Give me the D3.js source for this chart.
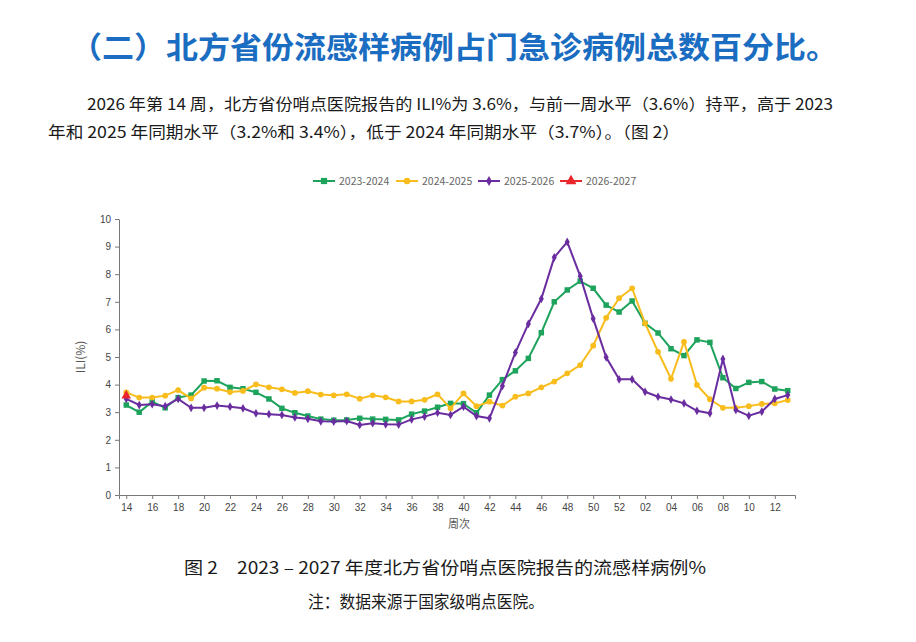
<!DOCTYPE html>
<html>
<head>
<meta charset="utf-8">
<script src="https://cdn.jsdelivr.net/npm/d3@7"></script>
<style>
  body { margin: 0; background: #fff; }
  svg { display: block; font-family: "Noto Sans CJK SC", "Noto Sans", sans-serif; }
</style>
</head>
<body>
<div id="chart"></div>
<script>
// weeks 14..52 then 01..13
const weeks = ["14","15","16","17","18","19","20","21","22","23","24","25","26","27","28","29","30","31","32","33",
  "34","35","36","37","38","39","40","41","42","43","44","45","46","47","48","49","50","51","52",
  "01","02","03","04","05","06","07","08","09","10","11","12","13"];
const tickWeeks = weeks.filter((d, i) => i % 2 === 0);

const s2023 = [3.26,3.0,3.38,3.16,3.53,3.62,4.13,4.14,3.90,3.85,3.72,3.48,3.14,2.98,2.86,2.75,2.71,2.72,2.78,2.75,
  2.74,2.72,2.93,3.04,3.18,3.32,3.31,2.98,3.62,4.18,4.5,4.95,5.88,7.0,7.43,7.75,7.49,6.88,6.63,
  7.03,6.22,5.87,5.3,5.05,5.62,5.53,4.25,3.86,4.08,4.11,3.84,3.78];
const s2024 = [3.72,3.53,3.53,3.6,3.80,3.50,3.89,3.85,3.73,3.77,4.01,3.90,3.83,3.70,3.76,3.64,3.61,3.65,3.49,3.61,
  3.54,3.39,3.39,3.45,3.65,3.14,3.68,3.22,3.38,3.24,3.56,3.68,3.90,4.11,4.41,4.71,5.41,6.42,7.13,
  7.49,6.22,5.19,4.21,5.55,3.99,3.47,3.16,3.16,3.22,3.30,3.32,3.44];
const s2025 = [3.48,3.26,3.29,3.22,3.48,3.16,3.16,3.24,3.2,3.14,2.96,2.93,2.90,2.81,2.76,2.67,2.66,2.68,2.54,2.60,
  2.56,2.55,2.74,2.84,2.98,2.90,3.20,2.86,2.78,3.95,5.16,6.2,7.11,8.61,9.17,7.93,6.39,4.99,4.19,
  4.19,3.74,3.56,3.46,3.32,3.05,2.96,4.93,3.08,2.87,3.02,3.48,3.62];
const s2026 = [3.6];

const seriesNames = ["2023-2024","2024-2025","2025-2026","2026-2027"];
const seriesColors = ["#1da35c","#f8bd1c","#6a2d9f","#e8262b"];
const seriesSymbols = [d3.symbolSquare, d3.symbolCircle, d3.symbolDiamond, d3.symbolTriangle];
const symbolSizes = [30, 26, 22, 40];
const allSeries = [s2023, s2024, s2025, s2026];

const W = 916, H = 642;
const svg = d3.select("#chart").append("svg")
    .attr("width", W)
    .attr("height", H);

svg.append("rect").attr("width", W).attr("height", H).attr("fill", "#fff");

// title and paragraph
svg.append("text")
    .attr("x", 70).attr("y", 58)
    .attr("textLength", 768).attr("lengthAdjust", "spacingAndGlyphs")
    .style("font-size", "30px")
    .style("font-weight", "bold")
    .style("fill", "#1a6dc0")
    .text("（二）北方省份流感样病例占门急诊病例总数百分比。");

svg.append("text")
    .attr("x", 87).attr("y", 110)
    .attr("textLength", 746).attr("lengthAdjust", "spacingAndGlyphs")
    .style("font-size", "16px").style("fill", "#1a1a1a")
    .text("2026 年第 14 周，北方省份哨点医院报告的 ILI%为 3.6%，与前一周水平（3.6%）持平，高于 2023");
svg.append("text")
    .attr("x", 48).attr("y", 138)
    .attr("textLength", 632).attr("lengthAdjust", "spacingAndGlyphs")
    .style("font-size", "16px").style("fill", "#1a1a1a")
    .text("年和 2025 年同期水平（3.2%和 3.4%），低于 2024 年同期水平（3.7%）。（图 2）");

// scales
const x = d3.scalePoint()
    .domain(weeks)
    .range([119, 795])
    .padding(0.56);

const y = d3.scaleLinear()
    .domain([0, 10])
    .range([495, 219]);

const gx = svg.append("g")
    .attr("transform", "translate(0,495)")
    .call(d3.axisBottom(x).tickValues(tickWeeks).tickSize(4).tickPadding(5));
gx.select(".domain").attr("stroke", "#777");
gx.selectAll(".tick line").attr("stroke", "#777");
gx.selectAll(".tick text").style("font-size", "10px").style("fill", "#444").attr("font-family", null);

const gy = svg.append("g")
    .attr("transform", "translate(119,0)")
    .call(d3.axisLeft(y).ticks(10).tickSize(4).tickSizeOuter(0).tickPadding(4));
gy.select(".domain").attr("stroke", "#777");
gy.selectAll(".tick line").attr("stroke", "#777");
gy.selectAll(".tick text").style("font-size", "10px").style("fill", "#444").attr("font-family", null);

svg.append("text")
    .attr("transform", "translate(85,357) rotate(-90)")
    .attr("text-anchor", "middle")
    .style("font-size", "12px").style("fill", "#555")
    .text("ILI(%)");

svg.append("text")
    .attr("x", 459).attr("y", 528)
    .attr("text-anchor", "middle")
    .style("font-size", "11px").style("fill", "#555")
    .text("周次");

// lines + markers
const line = d3.line()
    .x((d, i) => x(weeks[i]))
    .y(d => y(d));

allSeries.forEach((vals, k) => {
    svg.append("path")
        .datum(vals)
        .attr("fill", "none")
        .attr("stroke", seriesColors[k])
        .attr("stroke-width", 2)
        .attr("d", line);

    svg.selectAll(".m" + k)
        .data(vals)
        .enter()
        .append("path")
        .attr("class", "m" + k)
        .attr("transform", (d, i) => `translate(${x(weeks[i])},${y(d)})`)
        .attr("d", d3.symbol().type(seriesSymbols[k]).size(symbolSizes[k]))
        .attr("fill", seriesColors[k]);
});

// legend
const legendX = [313, 396, 478, 560];
const legend = svg.append("g").attr("transform", "translate(0,181)");
seriesNames.forEach((name, k) => {
    const g = legend.append("g").attr("transform", `translate(${legendX[k]},0)`);
    g.append("line")
        .attr("x1", 0).attr("x2", 22)
        .attr("stroke", seriesColors[k]).attr("stroke-width", 2);
    g.append("path")
        .attr("transform", "translate(11,0)")
        .attr("d", d3.symbol().type(seriesSymbols[k]).size(symbolSizes[k] * 1.3))
        .attr("fill", seriesColors[k]);
    g.append("text")
        .attr("x", 26).attr("y", 4)
        .style("font-size", "10.5px").style("fill", "#666")
        .text(name);
});

// caption
svg.append("text")
    .attr("x", 184).attr("y", 574)
    .attr("textLength", 522).attr("lengthAdjust", "spacingAndGlyphs")
    .style("font-size", "17px").style("fill", "#1a1a1a")
    .text("图 2　2023 – 2027 年度北方省份哨点医院报告的流感样病例%");
svg.append("text")
    .attr("x", 308).attr("y", 608)
    .attr("textLength", 236).attr("lengthAdjust", "spacingAndGlyphs")
    .style("font-size", "17px").style("fill", "#1a1a1a")
    .text("注：数据来源于国家级哨点医院。");
</script>
</body>
</html>
